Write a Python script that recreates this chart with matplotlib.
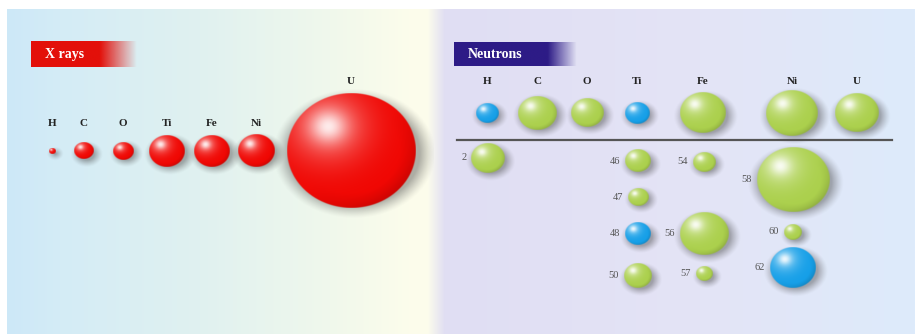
import numpy as np
import matplotlib
matplotlib.use("Agg")
import matplotlib.pyplot as plt
from matplotlib.colors import to_rgb

# X-ray scattering (sphere radius, px) for each element
xray_elements = ['H', 'C', 'O', 'Ti', 'Fe', 'Ni', 'U']
xray_radius = [2.7, 8.5, 9, 16, 16, 16.5, 57.5]
xray_x = [52, 84, 123, 167, 212, 256, 351]

# Neutron scattering, natural elements (blue = negative scattering length)
neutron_elements = ['H', 'C', 'O', 'Ti', 'Fe', 'Ni', 'U']
neutron_radius = [10, 17, 14.5, 11, 20.5, 23, 19.5]
neutron_negative = [True, False, False, True, False, False, False]
neutron_x = [487, 537, 587, 637, 703, 792, 857]

# Isotopes
iso_labels = ['2', '46', '47', '48', '50', '54', '56', '57', '58', '60', '62']
iso_element = ['H', 'Ti', 'Ti', 'Ti', 'Ti', 'Fe', 'Fe', 'Fe', 'Ni', 'Ni', 'Ni']
iso_radius = [15, 11.5, 9, 11.5, 12.5, 10, 21.5, 7.5, 32.5, 8, 20.5]
iso_negative = [False, False, False, True, False, False, False, False, False, False, True]
iso_y = [158, 161, 197, 234, 276, 162, 234, 274, 180, 232, 268]

RED = '#f00602'
GREEN = '#abd04c'
BLUE = '#159fe8'
SERIF = 'Liberation Serif'
STRETCH = 1.12  # spheres are drawn slightly wider than tall

W, H = 915, 334
fig = plt.figure(figsize=(9.15, 3.34), dpi=100)
ax = fig.add_axes([0, 0, 1, 1])


def background():
    stops_x = [7, 60, 200, 330, 415, 428, 445, 700, 915]
    stops_c = [(205, 232, 248), (212, 236, 246), (224, 241, 240), (240, 248, 236),
               (253, 253, 235), (252, 252, 236), (224, 222, 243), (228, 228, 246), (221, 235, 251)]
    xs = np.linspace(7, 915, 908)
    img = np.zeros((1, len(xs), 3))
    for k in range(3):
        img[0, :, k] = np.interp(xs, stops_x, [c[k] for c in stops_c]) / 255
    ax.imshow(img, extent=(7, 915, 334, 9), aspect='auto', interpolation='bilinear', zorder=0)


def tag(x0, x1, y0, y1, color, fade_start, text):
    xs = np.linspace(x0, x1, 200)
    img = np.zeros((1, len(xs), 4))
    img[0, :, :3] = to_rgb(color)
    img[0, :, 3] = np.clip((x1 - xs) / (x1 - fade_start), 0, 1)
    ax.imshow(img, extent=(x0, x1, y1, y0), aspect='auto', interpolation='bilinear', zorder=1)
    ax.text(x0 + 14, (y0 + y1) / 2 + 0.5, text, color='white', fontsize=10,
            fontweight='bold', family=SERIF, ha='left', va='center', zorder=2)


def sphere(x, y, r, color):
    base = np.array(to_rgb(color))
    rx, ry = r * STRETCH, r
    # soft drop shadow to lower right
    blur = 3 + 0.06 * r
    s = r + 3 + 2 * blur
    n = max(int(4 * s), 24)
    g = np.linspace(-s, s, n)
    X, Y = np.meshgrid(g, g)
    d = np.hypot((X - 2.5) / STRETCH, Y - 3.0)
    a = np.clip((r + 1.0 + blur - d) / (2 * blur), 0, 1) ** 1.3 * 0.45
    sh = np.zeros((n, n, 4))
    sh[..., :3] = 0.3
    sh[..., 3] = a
    ax.imshow(sh, extent=(x - s * STRETCH, x + s * STRETCH, y + s, y - s), aspect='auto',
              interpolation='bilinear', zorder=2)
    # body: flat base colour, broad soft highlight to the upper left
    n = max(int(6 * r), 30)
    g = np.linspace(-1, 1, n)
    U, V = np.meshgrid(g, g)
    rr = np.hypot(U, V)
    dh = np.hypot(U + 0.36, V + 0.42)
    hl = 0.5 * np.exp(-(dh / 0.28) ** 2) + 0.42 * np.exp(-(dh / 0.62) ** 2)
    rim = np.clip((rr - 0.75) / 0.25, 0, 1) * np.clip(U + V, 0, 1.4) / 1.4
    rgb = base * (1 - 0.15 * rim)[..., None]
    rgb = rgb + (1 - rgb) * np.clip(hl, 0, 1)[..., None]
    img = np.zeros((n, n, 4))
    img[..., :3] = np.clip(rgb, 0, 1)
    img[..., 3] = np.clip((1 - rr) * r + 0.5, 0, 1)
    ax.imshow(img, extent=(x - rx, x + rx, y + ry, y - ry), aspect='auto',
              interpolation='bilinear', zorder=3)


background()

# X rays panel
tag(31, 137, 41, 67, '#e3100a', 100, 'X rays')
for el, r, x in zip(xray_elements, xray_radius, xray_x):
    sphere(x, 151, r, RED)
    ly = 81 if r > 40 else 124
    ax.text(x, ly, el, fontsize=8, fontweight='bold', family=SERIF, color='#222222',
            ha='center', va='center', zorder=4)

# Neutrons panel
tag(454, 577, 42, 66, '#2d1b86', 548, 'Neutrons')
for el, r, neg, x in zip(neutron_elements, neutron_radius, neutron_negative, neutron_x):
    sphere(x, 113, r, BLUE if neg else GREEN)
    ax.text(x, 82, el, fontsize=8, fontweight='bold', family=SERIF, color='#222222',
            ha='center', va='center', zorder=4)

ax.plot([457, 892], [140, 140], color='#555555', lw=1.6, zorder=1)

col_x = dict(zip(neutron_elements, neutron_x))
for lab, el, r, neg, y in zip(iso_labels, iso_element, iso_radius, iso_negative, iso_y):
    x = col_x[el] + 1
    sphere(x, y, r, BLUE if neg else GREEN)
    ax.text(x - r * STRETCH - 5, y, lab, fontsize=7.5, family=SERIF, color='#555555',
            ha='right', va='center', zorder=4)

ax.set_xlim(0, W)
ax.set_ylim(H, 0)
ax.axis('off')
fig.savefig('out.png', dpi=100, facecolor='white')
